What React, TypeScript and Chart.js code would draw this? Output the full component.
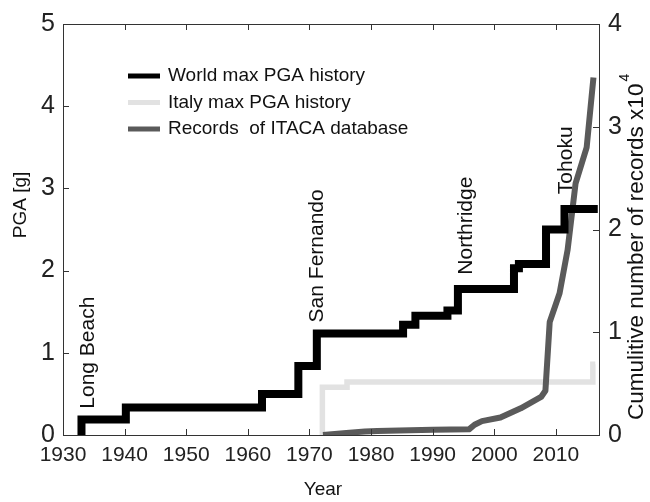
import React, { useEffect, useRef } from 'react';
import { Chart, registerables } from 'chart.js';
Chart.register(...registerables);

const FONT = "'Liberation Sans', Arial, Helvetica, sans-serif";

// World max PGA history (g), step series
const worldYears = [1933, 1933, 1940.2, 1962.3, 1968.2, 1971.2, 1985.2, 1987.2, 1992.4, 1994.1, 2003.2, 2004.0, 2008.4, 2011.4, 2016.8];
const worldPGA = [0, 0.19, 0.335, 0.5, 0.84, 1.235, 1.34, 1.45, 1.515, 1.775, 2.03, 2.08, 2.5, 2.75, 2.75];

// Italy max PGA history (g), step series
const italyYears = [1972.1, 1972.1, 1976.1, 2016.0, 2016.4];
const italyPGA = [0, 0.58, 0.645, 0.86, 0.86];

// Cumulative number of ITACA records (x10^4)
const itacaYears = [1972.2, 1976, 1979, 1981, 1990, 1995.9, 1996.8, 1998, 2001, 2004.3, 2007.6, 2008.3, 2009.0, 2010.6, 2011.9, 2013.2, 2015.0, 2016.1];
const itacaRecords = [0.0, 0.02, 0.035, 0.04, 0.05, 0.055, 0.1, 0.135, 0.17, 0.26, 0.37, 0.43, 1.1, 1.38, 1.8, 2.45, 2.8, 3.48];

const xTicks = [1930, 1940, 1950, 1960, 1970, 1980, 1990, 2000, 2010];
const leftTicks = [0, 1, 2, 3, 4, 5];
const rightTicks = [0, 1, 2, 3, 4];

const eventNames = ['Long Beach', 'San Fernando', 'Northridge', 'Tohoku'];
const eventYears = [1934.1, 1971.3, 1995.4, 2011.6];
const eventLabelBase = [0.32, 1.37, 1.95, 2.93];

const seriesLabels = ['World max PGA history', 'Italy max PGA history', 'Records  of ITACA database'];
const seriesColors = ['#000000', '#e2e2e2', '#5a5a5a'];

const decor = {
  id: 'decor',
  afterDraw(chart: any) {
    const { ctx, chartArea: a, scales } = chart;
    const xs = scales.x, ys = scales.y, y1 = scales.y1;
    ctx.save();
    // frame
    ctx.strokeStyle = '#333';
    ctx.lineWidth = 1;
    ctx.strokeRect(a.left + 0.5, a.top + 0.5, a.right - a.left, a.bottom - a.top);
    // inward ticks
    ctx.beginPath();
    xTicks.forEach((v) => {
      const px = Math.round(xs.getPixelForValue(v)) + 0.5;
      ctx.moveTo(px, a.bottom); ctx.lineTo(px, a.bottom - 6);
      ctx.moveTo(px, a.top); ctx.lineTo(px, a.top + 6);
    });
    leftTicks.forEach((v) => {
      const py = Math.round(ys.getPixelForValue(v)) + 0.5;
      ctx.moveTo(a.left, py); ctx.lineTo(a.left + 6, py);
    });
    rightTicks.forEach((v) => {
      const py = Math.round(y1.getPixelForValue(v)) + 0.5;
      ctx.moveTo(a.right, py); ctx.lineTo(a.right - 6, py);
    });
    ctx.stroke();

    // event annotations
    ctx.fillStyle = '#111';
    ctx.font = `21px ${FONT}`;
    ctx.textAlign = 'left';
    ctx.textBaseline = 'middle';
    eventNames.forEach((n, i) => {
      ctx.save();
      ctx.translate(xs.getPixelForValue(eventYears[i]), ys.getPixelForValue(eventLabelBase[i]));
      ctx.rotate(-Math.PI / 2);
      ctx.fillText(n, 0, 0);
      ctx.restore();
    });

    // legend
    ctx.font = `19px ${FONT}`;
    seriesLabels.forEach((l, i) => {
      const yy = 76 + i * 26.5;
      ctx.strokeStyle = seriesColors[i];
      ctx.lineWidth = 5;
      ctx.beginPath();
      ctx.moveTo(128, yy); ctx.lineTo(160, yy);
      ctx.stroke();
      ctx.fillStyle = '#111';
      ctx.textAlign = 'left';
      ctx.fillText(l, 168, yy);
    });

    // axis titles
    ctx.fillStyle = '#111';
    ctx.font = `19px ${FONT}`;
    ctx.textAlign = 'center';
    ctx.fillText('Year', 323, 490);
    ctx.save();
    ctx.translate(21, 205);
    ctx.rotate(-Math.PI / 2);
    ctx.fillText('PGA [g]', 0, 0);
    ctx.restore();

    ctx.save();
    ctx.translate(637, 420);
    ctx.rotate(-Math.PI / 2);
    ctx.font = `22.5px ${FONT}`;
    ctx.textAlign = 'left';
    const t = 'Cumulitive number of records x10';
    ctx.fillText(t, 0, 0);
    const w = ctx.measureText(t).width;
    ctx.font = `14px ${FONT}`;
    ctx.fillText('4', w + 2, -12);
    ctx.restore();

    ctx.restore();
  },
};

export default function App() {
  const ref = useRef<HTMLCanvasElement>(null);
  useEffect(() => {
    const chart = new Chart(ref.current as HTMLCanvasElement, {
      type: 'line',
      data: {
        datasets: [
          {
            label: seriesLabels[0],
            data: worldYears.map((x, i) => ({ x, y: worldPGA[i] })),
            borderColor: seriesColors[0],
            borderWidth: 8,
            stepped: true,
            pointRadius: 0,
            yAxisID: 'y',
            order: 0,
            borderCapStyle: 'butt',
            borderJoinStyle: 'miter',
          },
          {
            label: seriesLabels[1],
            data: italyYears.map((x, i) => ({ x, y: italyPGA[i] })),
            borderColor: seriesColors[1],
            borderWidth: 5.5,
            stepped: true,
            pointRadius: 0,
            yAxisID: 'y',
            order: 2,
            borderJoinStyle: 'miter',
          },
          {
            label: seriesLabels[2],
            data: itacaYears.map((x, i) => ({ x, y: itacaRecords[i] })),
            borderColor: seriesColors[2],
            borderWidth: 6,
            tension: 0,
            pointRadius: 0,
            yAxisID: 'y1',
            order: 1,
            borderJoinStyle: 'round',
          },
        ],
      },
      options: {
        animation: false,
        responsive: false,
        devicePixelRatio: 1,
        layout: { padding: { top: 17, left: 0, right: 0, bottom: 0 } },
        plugins: { legend: { display: false }, tooltip: { enabled: false } },
        scales: {
          x: {
            type: 'linear',
            position: 'bottom',
            min: 1930,
            max: 2017,
            grid: { display: false, drawTicks: false },
            border: { display: false },
            ticks: {
              font: { size: 21, family: FONT },
              color: '#222',
              padding: 8,
              maxRotation: 0,
              autoSkip: false,
              callback: (v: any) => String(v),
            },
            afterBuildTicks: (s: any) => { s.ticks = xTicks.map((v) => ({ value: v })); },
            afterFit: (s: any) => { s.height = 67; },
          },
          y: {
            type: 'linear',
            position: 'left',
            min: 0,
            max: 5,
            grid: { display: false, drawTicks: false },
            border: { display: false },
            ticks: {
              font: { size: 25, family: FONT },
              color: '#222',
              padding: 8,
              callback: (v: any) => String(v),
            },
            afterBuildTicks: (s: any) => { s.ticks = leftTicks.map((v) => ({ value: v })); },
            afterFit: (s: any) => { s.width = 63; },
          },
          y1: {
            type: 'linear',
            position: 'right',
            min: 0,
            max: 4,
            grid: { display: false, drawTicks: false },
            border: { display: false },
            ticks: {
              font: { size: 25, family: FONT },
              color: '#222',
              padding: 9,
              callback: (v: any) => String(v),
            },
            afterBuildTicks: (s: any) => { s.ticks = rightTicks.map((v) => ({ value: v })); },
            afterFit: (s: any) => { s.width = 51; },
          },
        },
      },
      plugins: [decor],
    } as any);
    return () => chart.destroy();
  }, []);
  return (
    <div style={{ position: 'absolute', left: 0, top: 0, width: 650, height: 502, background: '#fff' }}>
      <canvas ref={ref} width={650} height={502} style={{ display: 'block', width: 650, height: 502 }} />
    </div>
  );
}
